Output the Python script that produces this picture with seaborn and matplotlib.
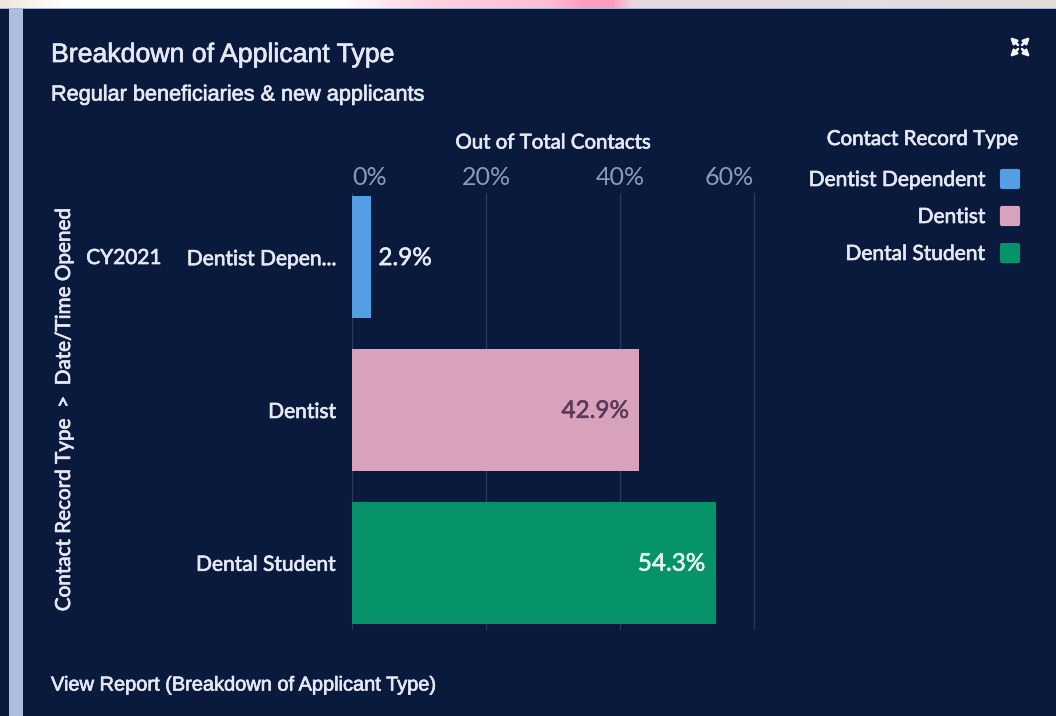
"""
Breakdown of applicant type, dark dashboard card
"""
import pandas as pd
import numpy as np
import matplotlib.pyplot as plt
import matplotlib.patheffects as pe
import seaborn as sns
from matplotlib.colors import LinearSegmentedColormap
from matplotlib.lines import Line2D
from matplotlib.markers import MarkerStyle
from matplotlib.patches import FancyArrowPatch, Rectangle

categories = ["Dentist Dependent", "Dentist", "Dental Student"]
shares = [2.9, 42.9, 54.3]
tick_labels = ["Dentist Depen...", "Dentist", "Dental Student"]
value_ticks = [0, 20, 40, 60]
bar_colors = ["#549fe4", "#d8a2bc", "#07936a"]
label_colors = ["#e6ebf5", "#5a3a58", "#e6f5f0"]

WIDTH, HEIGHT = 1056, 716
CARD = "#0a1a3d"
TEXT = "#e4e8f2"
UI_FONT = "Lato"
HEAD_FONT = "Liberation Sans"
# Target text is a bit heavier than the regular cut of these fonts
HEAVY = [pe.withStroke(linewidth=0.5, foreground=TEXT)]

sns.set_theme(style="dark", rc={"axes.facecolor": CARD, "figure.facecolor": CARD})
plt.rcParams["font.family"] = [UI_FONT, "DejaVu Sans"]


def fx(px):
    return px / WIDTH


def fy(py):
    return 1 - py / HEIGHT


figure = plt.figure(figsize=(WIDTH / 100, HEIGHT / 100), dpi=100)

# Page behind the card: strip on top, accent bar on the left
strip = figure.add_axes([0, fy(8), 1, 8 / HEIGHT])
strip_cmap = LinearSegmentedColormap.from_list("strip", [
    (0.0, "#f1e6dc"), (0.06, "#ffffff"), (0.32, "#ffffff"), (0.40, "#ffd5e2"),
    (0.52, "#ffbcd6"), (0.555, "#ff9dbf"), (0.58, "#ff9dbf"), (0.60, "#e8d8de"),
    (0.80, "#e4dce2"), (1.0, "#e2ded8")])
strip.imshow(np.linspace(0, 1, 512).reshape(1, -1), aspect="auto", cmap=strip_cmap)
strip.axis("off")
figure.add_artist(Rectangle((0, fy(9)), 1, 1 / HEIGHT, transform=figure.transFigure,
                            color="#a9b9d8", lw=0))
figure.add_artist(Rectangle((fx(9), 0), 14 / WIDTH, fy(9), transform=figure.transFigure,
                            color="#aebfdd", lw=0))

# Chart area, 60% sits just inside the right edge so its grid line shows
axes = figure.add_axes([fx(352), fy(630), 404 / WIDTH, 437 / HEIGHT])
data = pd.DataFrame({"category": categories, "share": shares})
sns.barplot(data=data, x="share", y="category", hue="category", order=categories,
            hue_order=categories, palette=bar_colors, dodge=False, legend=False,
            width=0.8, saturation=1, linewidth=0, ax=axes, zorder=3)
sns.despine(ax=axes, left=True, bottom=True, right=True, top=True)
axes.set_xlim(0, 60.3)
axes.set_ylim(2.44, -0.42)
axes.set_xlabel("")
axes.set_ylabel("")

axes.xaxis.tick_top()
axes.set_xticks(value_ticks)
axes.set_xticklabels([f"{v}%" for v in value_ticks], fontsize=18, color="#8c9ab8")
axes.get_xticklabels()[0].set_ha("left")
axes.get_xticklabels()[-1].set_ha("right")
axes.tick_params(axis="x", length=0, pad=3)
axes.grid(axis="x", color="#2a3a5c", linewidth=0.9, zorder=0)
axes.grid(axis="y", visible=False)
axes.set_yticks(range(len(categories)))
axes.set_yticklabels(tick_labels, fontsize=15.1, color=TEXT, path_effects=HEAVY)
axes.tick_params(axis="y", length=0, pad=11.5)

# Value labels, the small bar keeps its label outside
for i, share in enumerate(shares):
    stroke = [pe.withStroke(linewidth=0.4, foreground=label_colors[i])]
    if share < 10:
        axes.annotate(f"{share}%", (share, i), xytext=(5, -1), textcoords="offset points",
                      va="center", ha="left", fontsize=17.5, color=label_colors[i], zorder=4,
                      path_effects=stroke)
    else:
        axes.annotate(f"{share}%", (share, i), xytext=(-7.5, -1), textcoords="offset points",
                      va="center", ha="right", fontsize=17.5, color=label_colors[i], zorder=4,
                      path_effects=stroke)

figure.text(fx(51), fy(55), "Breakdown of Applicant Type", family=HEAD_FONT, fontsize=19.2,
            color=TEXT, va="center", path_effects=HEAVY)
figure.text(fx(51), fy(95), "Regular beneficiaries & new applicants", family=HEAD_FONT,
            fontsize=15.6, color=TEXT, va="center", path_effects=HEAVY)
figure.text(fx(51), fy(685), "View Report (Breakdown of Applicant Type)", family=HEAD_FONT,
            fontsize=14.4, color=TEXT, va="center", path_effects=HEAVY)
figure.text(fx(553), fy(143), "Out of Total Contacts", fontsize=14.7, color=TEXT,
            ha="center", va="center", path_effects=HEAVY)
figure.text(fx(64), fy(410), "Contact Record Type  >  Date/Time Opened", fontsize=14.9,
            color=TEXT, rotation=90, ha="center", va="center", path_effects=HEAVY)
figure.text(fx(124), fy(258), "CY2021", fontsize=15, color=TEXT, ha="center", va="center",
            path_effects=HEAVY)

# Expand icon, four arrows going out to the corners
for dx, dy in [(-1, -1), (1, -1), (-1, 1), (1, 1)]:
    figure.add_artist(FancyArrowPatch(
        (fx(1020 + 2 * dx), fy(47 + 2 * dy)), (fx(1020 + 10 * dx), fy(47 + 10 * dy)),
        arrowstyle="-|>", mutation_scale=9, linewidth=1.8, color="#f2f4f8",
        shrinkA=0, shrinkB=0, transform=figure.transFigure))

# Legend with rounded swatches on the right of the names
figure.text(fx(1018), fy(139), "Contact Record Type", fontsize=14.8, color=TEXT,
            ha="right", va="center", path_effects=HEAVY)
swatch = MarkerStyle("s", joinstyle="round")
handles = [Line2D([], [], linestyle="none", marker=swatch, markersize=11.4, markeredgewidth=3,
                  color=c, label=name) for name, c in zip(categories, bar_colors)]
legend = figure.legend(handles=handles, markerfirst=False, loc="upper right",
                       bbox_to_anchor=(fx(1020), fy(170)), frameon=False, fontsize=15.1,
                       labelcolor=TEXT, alignment="right", labelspacing=0.81,
                       handletextpad=0.65, handlelength=1.0, borderpad=0, borderaxespad=0)
for text in legend.get_texts():
    text.set_ha("right")
    text.set_path_effects(HEAVY)

figure.savefig("out.png", dpi=100, facecolor=CARD)
